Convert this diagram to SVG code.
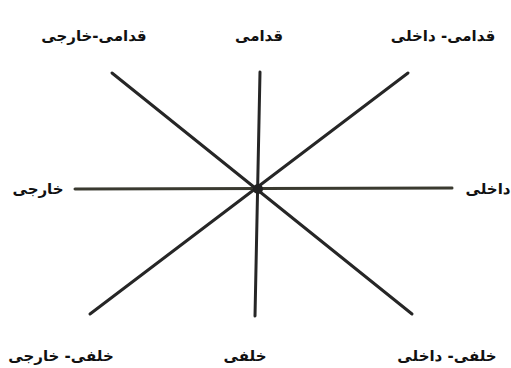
<svg xmlns="http://www.w3.org/2000/svg" width="511" height="368" viewBox="0 0 511 368">
<style>
.l{stroke:#262626;stroke-width:3;stroke-linecap:round;fill:none}
.t{font-family:"DejaVu Sans","Noto Sans",sans-serif;font-weight:bold;font-size:15px;fill:#111;text-anchor:middle;direction:rtl}
</style>
<rect width="511" height="368" fill="#fff"/>
<g id="connectors">
<line class="l" x1="260" y1="72" x2="255" y2="316"/>
<line class="l" x1="75" y1="189" x2="452" y2="188" style="stroke:#3a3a30"/>
<line class="l" x1="112" y1="73" x2="412" y2="314"/>
<line class="l" x1="408" y1="73" x2="90" y2="314"/>
<circle cx="258" cy="189" r="5" fill="#222"/>
</g>
<g id="n_ant_lat"><text class="t" x="94" y="41">قدامی-خارجی</text></g>
<g id="n_ant"><text class="t" x="259" y="41">قدامی</text></g>
<g id="n_ant_med"><text class="t" x="443" y="41">قدامی- داخلی</text></g>
<g id="n_lat"><text class="t" x="38" y="194">خارجی</text></g>
<g id="n_med"><text class="t" x="488" y="194">داخلی</text></g>
<g id="n_post_lat"><text class="t" x="61" y="361">خلفی- خارجی</text></g>
<g id="n_post"><text class="t" x="245" y="361">خلفی</text></g>
<g id="n_post_med"><text class="t" x="447" y="361">خلفی- داخلی</text></g>
</svg>
